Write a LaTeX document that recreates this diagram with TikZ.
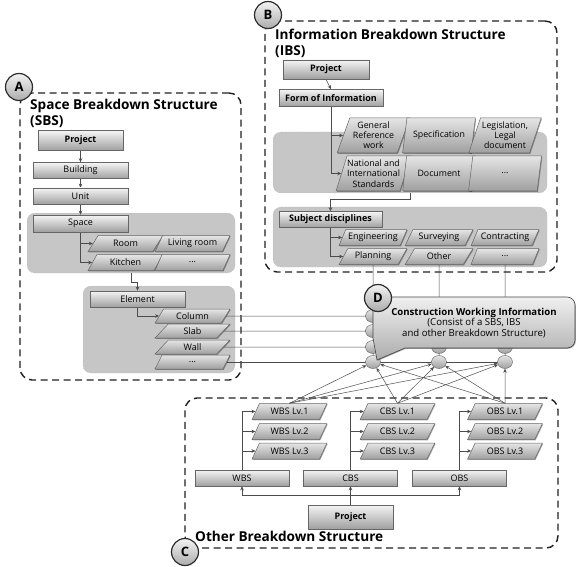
\documentclass[tikz,border=0pt]{standalone}
\usepackage{fontspec}
\setmainfont{Open Sans}
\usetikzlibrary{shapes.geometric,arrows.meta,shadows}
\pgfdeclarelayer{back}
\pgfdeclarelayer{mid}
\pgfsetlayers{back,mid,main}
\tikzset{
 sh/.style={drop shadow={shadow xshift=0.8pt,shadow yshift=-0.8pt,opacity=0.35,fill=black}},
 box/.style={draw=gray!80!black, line width=0.5pt, top color=gray!8, bottom color=gray!75, inner sep=0pt, minimum width=95pt, minimum height=16pt, font=\fontsize{9}{10}\selectfont, sh},
 bbox/.style={box, font=\fontsize{9}{10}\selectfont\bfseries},
 para/.style={trapezium, trapezium left angle=55, trapezium right angle=125, trapezium stretches=true, draw=gray!80!black, line width=0.5pt, top color=gray!20, bottom color=gray!75, inner sep=0pt, minimum width=75pt, minimum height=16pt, font=\fontsize{9}{10}\selectfont, align=center, sh},
 bpara/.style={para, trapezium left angle=68, trapezium right angle=112, minimum width=73pt, minimum height=35pt, font=\fontsize{8.8}{10.2}\selectfont},
 grp/.style={rounded corners=8pt, fill=gray!45, draw=gray!65, densely dotted, line width=0.4pt, inner sep=0pt},
 dframe/.style={rounded corners=12pt, draw=gray!25!black, line width=1.4pt, dash pattern=on 7pt off 4.5pt, inner sep=0pt},
 lettercirc/.style={circle, minimum size=27pt, inner sep=0pt, draw=gray!35!black, line width=1.2pt, top color=gray!10, bottom color=gray!65, font=\fontsize{13}{13}\selectfont\bfseries},
 cdot/.style={ellipse, minimum width=15pt, minimum height=13pt, inner sep=0pt, draw=gray!70!black, line width=0.4pt, top color=gray!20, bottom color=gray!75},
 link/.style={draw=gray!60!black, line width=0.5pt},
 arr/.style={link, -{Stealth[length=4pt,width=3.5pt]}},
 ttl/.style={font=\fontsize{13.6}{15.5}\selectfont\bfseries, align=left, inner sep=0pt, anchor=north west},
 callout/.style={draw=gray!55!black, line width=0.6pt, top color=gray!12, bottom color=gray!65, sh},
}
\begin{document}
\begin{tikzpicture}[x=1pt,y=-1pt]
\useasboundingbox (0,0) rectangle (576,567);
\begin{pgfonlayer}{back}
\node[dframe, minimum width=221pt, minimum height=287pt] (fA) at (130.5,236.5) {};
\node[dframe, minimum width=292pt, minimum height=251pt] (fB) at (411,146.5) {};
\node[dframe, minimum width=373pt, minimum height=150pt] (fC) at (371.5,473) {};
\node[grp, minimum width=208pt, minimum height=60pt] (sg1) at (131,243) {};
\node[grp, minimum width=152pt, minimum height=87pt] (sg2) at (159,329.5) {};
\node[grp, minimum width=274pt, minimum height=61pt] (ig1) at (410,162.5) {};
\node[grp, minimum width=274pt, minimum height=60pt] (ig2) at (410,237) {};
\end{pgfonlayer}
% titles
\node[ttl] (tA) at (30,99) {Space Breakdown Structure\\(SBS)};
\node[ttl] (tB) at (275,29) {Information Breakdown Structure\\(IBS)};
\node[ttl, anchor=west] (tC) at (195,536) {Other Breakdown Structure};
% SBS
\node[bbox, minimum width=85pt, minimum height=20pt] (sP) at (80.5,140.5) {Project};
\node[box] (sB) at (80.5,170.5) {Building};
\node[box] (sU) at (80.5,196) {Unit};
\node[box, minimum height=17pt] (sS) at (80.5,223.5) {Space};
\node[para] (sRoom) at (125.5,243.5) {Room};
\node[para] (sLiv) at (192.5,243.5) {Living room};
\node[para] (sKit) at (125.5,262.5) {Kitchen};
\node[para] (sDa) at (192.5,262.5) {...};
\node[box] (sE) at (137.5,299) {Element};
\node[para, minimum height=14pt] (sCol) at (192.5,316) {Column};
\node[para, minimum height=14pt] (sSlab) at (192.5,331) {Slab};
\node[para, minimum height=14pt] (sWall) at (192.5,347) {Wall};
\node[para, minimum height=14pt] (sDb) at (192.5,362) {...};
% IBS
\node[bbox, minimum width=86pt, minimum height=19pt] (iP) at (326,69.5) {Project};
\node[bbox, minimum width=104pt, minimum height=17pt] (iF) at (331,98) {Form of Information};
\node[bpara] (iGen) at (373.5,135.5) {General\\Reference\\work};
\node[bpara] (iSpec) at (439,135.5) {Specification};
\node[bpara] (iLeg) at (505,135.5) {Legislation,\\Legal\\document};
\node[bpara] (iNat) at (373.5,173.5) {National and\\International\\Standards};
\node[bpara] (iDoc) at (439,173.5) {Document};
\node[bpara] (iDa) at (505,173.5) {...};
\node[bbox, minimum width=103pt] (iSD) at (330.5,219.5) {Subject disciplines};
\node[para, minimum width=68pt] (iEng) at (373,237.5) {Engineering};
\node[para, minimum width=68pt] (iSur) at (439,237.5) {Surveying};
\node[para, minimum width=68pt] (iCon) at (505,237.5) {Contracting};
\node[para, minimum width=68pt] (iPlan) at (373,256.5) {Planning};
\node[para, minimum width=68pt] (iOth) at (439,256.5) {Other};
\node[para, minimum width=68pt] (iDb) at (505,256.5) {...};
% circles
\foreach \r/\y in {1/316,2/331,3/347,4/362}
  \foreach \k/\x in {1/373,2/439,3/505}
    \node[cdot] (c\r\k) at (\x,\y) {};
% OBS
\node[para] (oW1) at (289.5,411.5) {WBS Lv.1};
\node[para] (oW2) at (289.5,431.5) {WBS Lv.2};
\node[para] (oW3) at (289.5,451) {WBS Lv.3};
\node[para] (oC1) at (397.5,411.5) {CBS Lv.1};
\node[para] (oC2) at (397.5,431.5) {CBS Lv.2};
\node[para] (oC3) at (397.5,451) {CBS Lv.3};
\node[para] (oO1) at (505,411.5) {OBS Lv.1};
\node[para] (oO2) at (505,431.5) {OBS Lv.2};
\node[para] (oO3) at (505,451) {OBS Lv.3};
\node[box, minimum width=94pt] (oW) at (242,478) {WBS};
\node[box, minimum width=94pt] (oC) at (350.5,478) {CBS};
\node[box, minimum width=94pt] (oO) at (459.5,478) {OBS};
\node[bbox, minimum width=85pt, minimum height=24pt] (oP) at (350.5,517) {Project};
\coordinate (oJ) at (350.5,495);
% connectors
\begin{pgfonlayer}{mid}
\draw[arr] (sP) -- (sB);
\draw[arr] (sB) -- (sU);
\draw[arr] (sU) -- (sS);
\draw[arr] (sS.south) |- (sRoom.west);
\draw[arr] (sS.south) |- (sKit.west);
\draw[arr] (sg1.south) -- ++(0,9) -| (sE.north);
\draw[arr] (sE.south) |- (sCol.west);
\draw[link] (sCol.east) -- (c13.center);
\draw[link] (sSlab.east) -- (c23.center);
\draw[link] (sWall.east) -- (c33.center);
\draw[link] (sDb.east) -- (c43.center);
\draw[arr] (iP.south) -- (iF.north);
\draw[arr] (iF.south) |- (iGen.west);
\draw[arr] (iF.south) |- (iNat.west);
\draw[arr] (ig1.south) -- ++(0,6) -| (iSD.north);
\draw[arr] (iSD.south) |- (iEng.west);
\draw[arr] (iSD.south) |- (iPlan.west);
\draw[link] (iPlan.south) -- (c41.center);
\draw[link] (iOth.south) -- (c42.center);
\draw[link] (iDb.south) -- (c43.center);
\draw[arr] (oW.north) |- (oW1.west);
\draw[arr] (oW.north) |- (oW2.west);
\draw[arr] (oW.north) |- (oW3.west);
\draw[arr] (oC.north) |- (oC1.west);
\draw[arr] (oC.north) |- (oC2.west);
\draw[arr] (oC.north) |- (oC3.west);
\draw[arr] (oO.north) |- (oO1.west);
\draw[arr] (oO.north) |- (oO2.west);
\draw[arr] (oO.north) |- (oO3.west);
\draw[link] (oP.north) -- (oJ);
\draw[arr] (oJ) -| (oW.south);
\draw[arr] (oJ) -- (oC.south);
\draw[arr] (oJ) -| (oO.south);
\end{pgfonlayer}
\foreach \s in {oW1,oC1,oO1}
  \foreach \t in {c41,c42,c43}
    \draw[arr] (\s.north) -- (\t);
% callout D
\path[callout] (381,297) -- (567,297) arc[start angle=-90, end angle=0, radius=8]
  -- (575,340) arc[start angle=0, end angle=90, radius=8]
  -- (405,348) -- (377,360) -- (373,338) -- (373,305)
  arc[start angle=180, end angle=270, radius=8] -- cycle;
\node[align=center, inner sep=0pt, font=\fontsize{9.6}{10.6}\selectfont] (dText) at (474,323)
  {{\bfseries Construction Working Information}\\(Consist of a SBS, IBS\\and other Breakdown Structure)};
% letters
\node[lettercirc] (lA) at (19,87) {A};
\node[lettercirc] (lB) at (268,15) {B};
\node[lettercirc] (lC) at (185,552) {C};
\node[lettercirc] (lD) at (378,298) {D};
\end{tikzpicture}
\end{document}
